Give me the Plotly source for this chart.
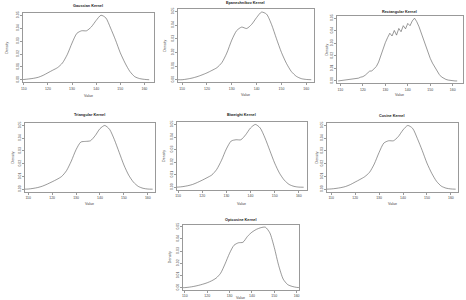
import plotly.graph_objects as go

# ---- data ----
titles = ["Gaussian Kernel", "Epanechnikov Kernel", "Rectangular Kernel",
          "Triangular Kernel", "Biweight Kernel", "Cosine Kernel", "Optcosine Kernel"]

grid_x = [108, 110, 112, 114, 116, 118, 120, 122, 124, 126, 128, 130, 132, 134,
          136, 138, 140, 142, 144, 146, 148, 150, 152, 154, 156, 158, 160, 162]

gaussian_y = [0.0000, 0.0003, 0.0007, 0.0012, 0.0020, 0.0035, 0.0055, 0.0075, 0.0095, 0.0130,
              0.0195, 0.0285, 0.0360, 0.0380, 0.0380, 0.0410, 0.0460, 0.0500, 0.0480, 0.0400,
              0.0310, 0.0210, 0.0130, 0.0065, 0.0025, 0.0010, 0.0004, 0.0001]
epanechnikov_y = [0.0000, 0.0000, 0.0005, 0.0012, 0.0022, 0.0035, 0.0050, 0.0068, 0.0088, 0.0125,
                  0.0195, 0.0290, 0.0360, 0.0385, 0.0375, 0.0405, 0.0455, 0.0495, 0.0480, 0.0405,
                  0.0300, 0.0200, 0.0120, 0.0060, 0.0025, 0.0008, 0.0002, 0.0000]
triangular_y = [0.0000, 0.0001, 0.0006, 0.0013, 0.0024, 0.0040, 0.0058, 0.0077, 0.0100, 0.0145,
                0.0220, 0.0310, 0.0370, 0.0375, 0.0380, 0.0420, 0.0475, 0.0500, 0.0470, 0.0390,
                0.0290, 0.0190, 0.0110, 0.0055, 0.0022, 0.0007, 0.0001, 0.0000]
biweight_y = [0.0000, 0.0001, 0.0005, 0.0012, 0.0022, 0.0038, 0.0056, 0.0076, 0.0098, 0.0142,
              0.0215, 0.0305, 0.0368, 0.0378, 0.0378, 0.0418, 0.0472, 0.0500, 0.0472, 0.0392,
              0.0292, 0.0192, 0.0112, 0.0056, 0.0022, 0.0007, 0.0001, 0.0000]
cosine_y = [0.0000, 0.0002, 0.0006, 0.0012, 0.0021, 0.0036, 0.0056, 0.0076, 0.0098, 0.0132,
            0.0198, 0.0288, 0.0362, 0.0380, 0.0380, 0.0412, 0.0465, 0.0500, 0.0478, 0.0398,
            0.0305, 0.0205, 0.0125, 0.0062, 0.0024, 0.0008, 0.0002, 0.0000]
optcosine_y = [0.0000, 0.0000, 0.0004, 0.0010, 0.0018, 0.0028, 0.0040, 0.0056, 0.0078, 0.0118,
               0.0195, 0.0282, 0.0348, 0.0368, 0.0372, 0.0420, 0.0455, 0.0478, 0.0492, 0.0496,
               0.0450, 0.0330, 0.0180, 0.0070, 0.0025, 0.0010, 0.0002, 0.0000]

rect_x = list(range(109, 163))
rectangular_y = [0.0000, 0.0002, 0.0004, 0.0006, 0.0008, 0.0009, 0.0012, 0.0014, 0.0017, 0.0022,
                 0.0030, 0.0034, 0.0045, 0.0060, 0.0078, 0.0080, 0.0095, 0.0115, 0.0150, 0.0205,
                 0.0250, 0.0305, 0.0345, 0.0380, 0.0358, 0.0402, 0.0365, 0.0418, 0.0392, 0.0440,
                 0.0415, 0.0458, 0.0440, 0.0478, 0.0500, 0.0472, 0.0432, 0.0382, 0.0322, 0.0270,
                 0.0225, 0.0180, 0.0142, 0.0110, 0.0080, 0.0052, 0.0032, 0.0020, 0.0012, 0.0007,
                 0.0003, 0.0001, 0.0000, 0.0000]

x_ticks = [110, 120, 130, 140, 150, 160]
y_ticks = [0.00, 0.01, 0.02, 0.03, 0.04, 0.05]
y_tick_text = ["0.00", "0.01", "0.02", "0.03", "0.04", "0.05"]

series = [
    (grid_x, gaussian_y, "spline"),
    (grid_x, epanechnikov_y, "spline"),
    (rect_x, rectangular_y, "linear"),
    (grid_x, triangular_y, "spline"),
    (grid_x, biweight_y, "spline"),
    (grid_x, cosine_y, "spline"),
    (grid_x, optcosine_y, "spline"),
]

# ---- layout geometry (pixels) ----
W, H = 466, 300
boxes = [  # x0, x1, y0(top), y1(bottom)
    (21, 153, 11, 81),
    (177, 314, 7, 81),
    (337, 464, 14, 82),
    (23, 154, 122, 191),
    (176, 307, 121, 189),
    (327, 459, 122, 191),
    (182, 299, 224, 290),
]
x_ranges = [(109.6, 164.0), (108.3, 163.1), (108.4, 164.6), (108.6, 163.0),
            (109.5, 163.4), (108.2, 163.0), (109.1, 161.1)]
title_y = [4, 1, 10, 114, 114, 115, 219]
ylab_x = [5, 164, 327, 12, 163, 317, 169]
xlab_y = [95, 94, 94, 203, 203, 203, 298]

line_col = "#555555"
box_col = "#999999"
txt_col = "#444444"

fig = go.Figure()
layout = dict(width=W, height=H, margin=dict(l=0, r=0, t=0, b=0),
              paper_bgcolor="white", plot_bgcolor="white", showlegend=False,
              annotations=[])

for i, ((xs, ys, shape), (x0, x1, y0, y1)) in enumerate(zip(series, boxes)):
    n = i + 1
    xa = "x" if n == 1 else f"x{n}"
    ya = "y" if n == 1 else f"y{n}"
    line = dict(color=line_col, width=0.6, shape=shape)
    if shape == "spline":
        line["smoothing"] = 0.7
    fig.add_trace(go.Scatter(x=xs, y=ys, mode="lines", xaxis=xa, yaxis=ya, line=line))
    axis_common = dict(showline=True, mirror=True, linecolor=box_col, linewidth=0.7,
                       showgrid=False, zeroline=False, ticks="outside", ticklen=2,
                       tickcolor=box_col, tickwidth=0.5,
                       tickfont=dict(size=3.5, color=txt_col, family="Liberation Sans"))
    layout["xaxis" if n == 1 else f"xaxis{n}"] = dict(
        axis_common, domain=[x0 / W, x1 / W], anchor=ya, range=list(x_ranges[i]),
        tickvals=x_ticks)
    layout["yaxis" if n == 1 else f"yaxis{n}"] = dict(
        axis_common, domain=[1 - y1 / H, 1 - y0 / H], anchor=xa,
        range=[-0.002, 0.0518], tickvals=y_ticks, ticktext=y_tick_text, tickangle=-90)
    cx = (x0 + x1) / 2
    layout["annotations"].append(dict(
        text=f"<b>{titles[i]}</b>", x=cx / W, y=1 - title_y[i] / H, xref="paper", yref="paper",
        showarrow=False, xanchor="center", yanchor="middle",
        font=dict(size=3.8, color="#222222", family="Liberation Sans")))
    layout["annotations"].append(dict(
        text="Density", x=ylab_x[i] / W, y=1 - ((y0 + y1) / 2) / H, xref="paper", yref="paper",
        showarrow=False, xanchor="center", yanchor="middle", textangle=-90,
        font=dict(size=3.6, color=txt_col, family="Liberation Sans")))
    layout["annotations"].append(dict(
        text="Value", x=cx / W, y=1 - xlab_y[i] / H, xref="paper", yref="paper",
        showarrow=False, xanchor="center", yanchor="middle",
        font=dict(size=3.6, color=txt_col, family="Liberation Sans")))

fig.update_layout(**layout)
fig.write_html("out.html")
